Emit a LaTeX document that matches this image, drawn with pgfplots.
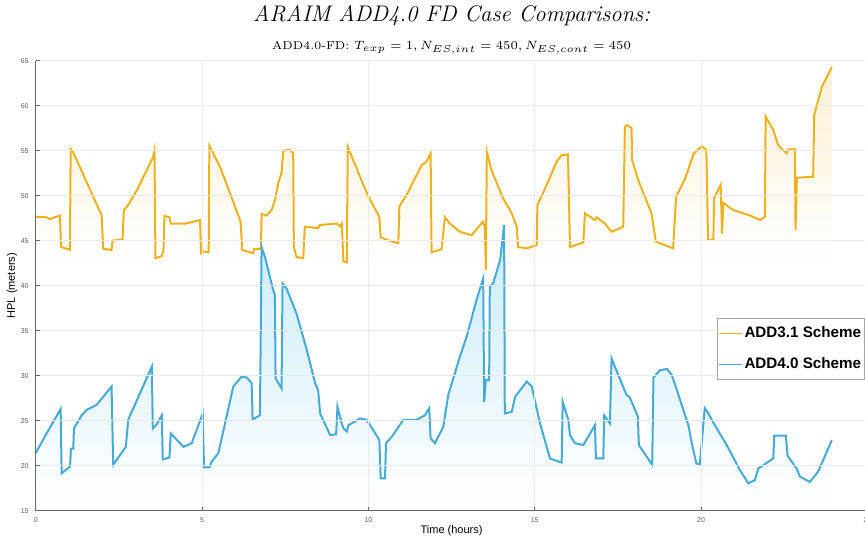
\documentclass[border=0pt]{standalone}
\usepackage{pgfplots}
\pgfplotsset{compat=1.18}
\usepackage{pgfplotstable}
\usepackage{fontspec}
\setsansfont{Liberation Sans}
\definecolor{yelc}{RGB}{237,177,32}
\definecolor{bluc}{RGB}{77,190,238}
\definecolor{gridc}{RGB}{235,235,235}
\pgfplotstableread{
x y
0 47.67
0.33 47.6
0.43 47.4
0.73 47.8
0.76 44.3
1.03 44.0
1.05 55.2
1.10 55.0
1.21 54.15
1.98 47.85
2.03 44.1
2.28 43.97
2.31 45.0
2.61 45.15
2.65 48.4
2.78 48.97
3.04 50.6
3.53 54.3
3.57 55.0
3.60 43.05
3.79 43.3
3.84 43.97
3.87 47.75
4.02 47.6
4.06 46.9
4.50 46.9
4.94 47.3
4.97 43.6
5.05 43.8
5.20 43.7
5.22 55.55
5.54 53.2
5.84 50.3
5.99 48.8
6.16 47.1
6.21 43.97
6.54 43.6
6.56 44.1
6.77 44.1
6.79 48.0
6.94 47.8
7.09 48.4
7.19 49.5
7.29 51.4
7.39 52.5
7.44 55.0
7.64 55.1
7.74 54.7
7.76 44.3
7.84 43.2
8.04 43.05
8.09 46.55
8.49 46.4
8.54 46.75
9.05 46.9
9.15 46.6
9.20 46.9
9.25 42.7
9.35 42.6
9.38 55.45
9.75 52.1
10.0 49.9
10.33 47.65
10.37 45.4
10.55 45.1
10.9 44.7
10.93 48.8
11.15 50.1
11.6 53.4
11.75 53.8
11.87 54.7
11.9 43.7
12.2 44.05
12.3 47.6
12.45 46.9
12.75 46.0
13.1 45.6
13.44 47.1
13.5 46.55
13.53 41.75
13.56 54.9
13.7 52.85
14.05 49.7
14.31 48.05
14.46 46.55
14.5 44.3
14.76 44.15
15.06 44.5
15.08 48.95
15.36 51.2
15.66 53.8
15.81 54.5
16.0 54.6
16.06 44.3
16.46 44.8
16.51 48.05
16.81 47.3
16.86 47.6
17.11 46.9
17.31 46.0
17.66 46.55
17.71 57.7
17.78 57.85
17.91 57.5
17.93 53.95
18.11 51.75
18.51 48.05
18.64 44.9
19.16 44.15
19.25 49.9
19.52 51.9
19.78 54.7
20.02 55.5
20.16 55.1
20.21 45.1
20.37 45.1
20.39 49.7
20.59 51.2
20.63 45.8
20.67 49.2
20.97 48.4
21.47 47.8
21.77 47.3
21.92 47.65
21.94 58.8
22.17 57.3
22.32 55.6
22.57 54.7
22.62 55.15
22.82 55.15
22.84 46.2
22.88 52.0
23.37 52.1
23.40 58.95
23.63 62.1
23.93 64.3
}\yeldata
\pgfplotstableread{
x y
0 21.4
0.33 23.6
0.75 26.3
0.78 19.15
1.03 19.9
1.06 21.9
1.13 21.9
1.15 24.15
1.38 25.6
1.53 26.2
1.83 26.75
2.28 28.8
2.33 20.1
2.71 22.1
2.78 25.1
3.49 31.0
3.52 24.15
3.62 24.5
3.79 25.6
3.82 20.7
4.02 20.9
4.06 23.6
4.44 22.1
4.69 22.5
5.02 25.8
5.06 19.8
5.22 19.8
5.29 20.45
5.49 21.4
5.94 28.8
6.19 29.9
6.34 29.8
6.49 29.2
6.52 25.15
6.74 25.6
6.79 44.3
6.89 43.2
7.14 39.5
7.19 39.0
7.21 29.7
7.39 28.6
7.42 40.25
7.54 39.7
7.84 36.9
8.15 32.85
8.40 29.15
8.49 28.4
8.55 25.8
8.85 23.4
9.03 23.5
9.07 26.55
9.20 24.7
9.25 24.15
9.35 23.8
9.40 24.5
9.75 25.25
9.95 25.1
10.33 22.85
10.37 18.6
10.50 18.6
10.53 22.5
10.70 23.2
11.05 25.1
11.45 25.1
11.70 25.6
11.83 26.4
11.87 23.05
12.00 22.5
12.25 24.3
12.40 27.85
12.75 32.1
12.95 34.3
13.25 38.4
13.45 40.8
13.48 27.1
13.53 29.5
13.63 29.5
13.65 39.9
13.75 40.25
13.96 42.85
14.08 46.75
14.10 25.8
14.31 26.0
14.41 27.65
14.76 29.35
14.91 28.8
15.16 24.7
15.46 20.8
15.81 20.35
15.84 27.1
16.01 25.1
16.06 23.4
16.21 22.5
16.46 22.3
16.81 24.5
16.84 20.8
17.06 20.8
17.09 25.6
17.26 24.7
17.31 31.9
17.76 27.85
17.85 27.65
18.10 25.45
18.13 22.3
18.53 20.1
18.57 29.8
18.76 30.6
18.97 30.75
19.12 30.1
19.37 27.3
19.62 24.5
19.72 22.5
19.86 20.25
19.96 20.1
20.11 26.4
20.22 25.8
20.32 25.1
20.77 22.3
21.17 19.5
21.42 18.05
21.62 18.4
21.72 19.7
22.17 20.8
22.20 23.35
22.55 23.35
22.60 21.1
22.87 19.7
22.97 18.8
23.27 18.2
23.52 19.35
23.93 22.85
}\bludata
\begin{document}
\begin{tikzpicture}
\begin{axis}[
  scale only axis,
  width=415.85pt, height=225pt,
  xmin=0, xmax=25, ymin=15, ymax=65,
  xtick={0,5,...,25}, ytick={15,20,...,65},
  axis x line*=bottom, axis y line*=left,
  axis line style={draw=gray!80!black, -, line width=0.5pt},
  tick style={draw=gray!80!black, line width=0.4pt},
  major tick length=2pt,
  tick align=inside,
  grid=major,
  grid style={draw=gridc, line width=0.5pt},
  axis on top,
  clip mode=individual,
  /pgf/number format/assume math mode=true,
  ticklabel style={font=\sffamily\fontsize{3.5}{4}\selectfont, text=gray!70!black},
  xlabel={Time (hours)}, ylabel={HPL (meters)},
  xlabel style={font=\sffamily\fontsize{5.5}{6.5}\selectfont, at={(axis description cs:0.5,-0.0444)}, anchor=center},
  ylabel style={font=\sffamily\fontsize{5.5}{6.5}\selectfont, at={(axis description cs:-0.0285,0.5)}, anchor=center},
  legend style={at={(0.8188,0.4282)}, anchor=north west, draw=gray!70, line width=0.4pt, fill=white,
    font=\sffamily\bfseries\fontsize{7.6}{9}\selectfont, inner xsep=0.5pt, inner ysep=3pt,
    row sep=6.5pt, nodes={inner sep=1pt}},
  legend cell align=left,
  legend image code/.code={\draw[#1, line width=0.7pt] (0pt,0pt) -- (11.5pt,0pt);},
]
\addplot[draw=none, top color=yelc!18, bottom color=white, forget plot] table {\yeldata} -- (axis cs:23.93,43) -- (axis cs:0,43) -- cycle;
\addplot[draw=none, top color=bluc!30, bottom color=white, forget plot] table {\bludata} -- (axis cs:23.93,15) -- (axis cs:0,15) -- cycle;
\addplot[draw=yelc, line width=1pt] table {\yeldata};
\addlegendentry{ADD3.1 Scheme}
\addplot[draw=bluc!90!black, line width=1pt] table {\bludata};
\addlegendentry{ADD4.0 Scheme}
\node[font=\fontsize{11.3}{13}\selectfont\itshape] at (rel axis cs:0.5,1) [yshift=22.5pt] {ARAIM ADD4.0 FD Case Comparisons:};
\node[font=\fontsize{5.7}{7}\selectfont] at (rel axis cs:0.5,1) [yshift=6.5pt] {ADD4.0-FD: $T_{exp}=1, N_{ES,int}=450, N_{ES,cont}=450$};
\end{axis}
\pgfresetboundingbox
\useasboundingbox (-17.85pt,-14.15pt) rectangle (414.65pt,255.35pt);
\end{tikzpicture}
\end{document}
